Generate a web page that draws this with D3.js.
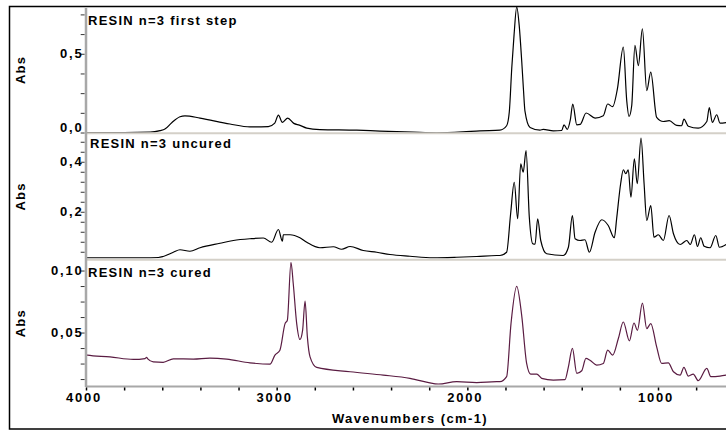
<!DOCTYPE html>
<html>
<head>
<meta charset="utf-8">
<script src="https://cdn.jsdelivr.net/npm/d3@7"></script>
<style>
  html, body { margin: 0; padding: 0; background: #fff; }
  svg { display: block; }
  text { font-family: "Liberation Sans", Arial, sans-serif; font-weight: bold; fill: #000; }
</style>
</head>
<body>
<svg id="chart" width="726" height="431"></svg>
<script>
// Spectra: [wavenumber (cm-1), absorbance]
const firstStep = [
  [4000, 0.000], [3800, 0.000], [3664, 0.002], [3612, 0.012], [3586, 0.022],
  [3549, 0.064], [3507, 0.100], [3481, 0.106], [3402, 0.092], [3245, 0.054],
  [3140, 0.036], [3044, 0.038], [3010, 0.060], [2991, 0.111], [2970, 0.064],
  [2942, 0.092], [2910, 0.058], [2881, 0.047], [2842, 0.028], [2773, 0.019],
  [2580, 0.015], [2458, 0.009], [2285, 0.002], [2161, -0.002], [2023, 0.004],
  [1934, 0.011], [1829, 0.015], [1794, 0.043], [1780, 0.130], [1767, 0.410],
  [1755, 0.620], [1741, 0.797], [1728, 0.680], [1715, 0.457], [1706, 0.280],
  [1698, 0.138], [1671, 0.032], [1619, 0.015], [1602, 0.020], [1549, 0.010],
  [1505, 0.013], [1493, 0.049], [1476, 0.020], [1460, 0.080], [1447, 0.181],
  [1426, 0.049], [1408, 0.052], [1377, 0.124], [1330, 0.092], [1287, 0.107],
  [1264, 0.181], [1238, 0.164], [1213, 0.277], [1182, 0.542], [1164, 0.202],
  [1152, 0.102], [1138, 0.170], [1121, 0.553], [1103, 0.425], [1082, 0.659],
  [1059, 0.266], [1038, 0.383], [1007, 0.096], [972, 0.070], [941, 0.075],
  [902, 0.045], [876, 0.043], [864, 0.085], [841, 0.040], [789, 0.028],
  [744, 0.070], [731, 0.159], [715, 0.064], [692, 0.113], [675, 0.060],
  [640, 0.064]
];

const uncured = [
  [4000, 0.016], [3700, 0.016], [3620, 0.017], [3595, 0.021], [3542, 0.038],
  [3507, 0.048], [3455, 0.042], [3402, 0.056], [3297, 0.074], [3227, 0.085],
  [3140, 0.092], [3070, 0.095], [3026, 0.078], [2991, 0.129], [2970, 0.082],
  [2965, 0.108], [2930, 0.108], [2878, 0.096], [2842, 0.078], [2773, 0.056],
  [2703, 0.060], [2659, 0.050], [2615, 0.061], [2546, 0.045], [2475, 0.038],
  [2406, 0.029], [2301, 0.022], [2179, 0.016], [2056, 0.018], [1951, 0.021],
  [1846, 0.025], [1829, 0.025], [1794, 0.038], [1773, 0.192], [1754, 0.318],
  [1736, 0.172], [1720, 0.392], [1707, 0.358], [1692, 0.445], [1675, 0.178],
  [1657, 0.072], [1645, 0.070], [1631, 0.172], [1615, 0.085], [1584, 0.032],
  [1497, 0.025], [1470, 0.058], [1449, 0.185], [1435, 0.092], [1409, 0.085],
  [1383, 0.088], [1360, 0.038], [1330, 0.118], [1295, 0.168], [1261, 0.145],
  [1229, 0.096], [1217, 0.172], [1196, 0.312], [1182, 0.368], [1169, 0.352],
  [1156, 0.368], [1142, 0.258], [1124, 0.412], [1109, 0.312], [1089, 0.495],
  [1073, 0.312], [1059, 0.165], [1038, 0.225], [1021, 0.098], [998, 0.108],
  [972, 0.085], [942, 0.185], [919, 0.112], [884, 0.069], [849, 0.085],
  [831, 0.069], [809, 0.108], [793, 0.061], [776, 0.096], [758, 0.062],
  [727, 0.056], [697, 0.105], [678, 0.058], [643, 0.069]
];

const cured = [
  [4000, 0.0320], [3993, 0.0318], [3874, 0.0304], [3752, 0.0283], [3690, 0.0290],
  [3682, 0.0300], [3676, 0.0288], [3647, 0.0264], [3595, 0.0260], [3542, 0.0288],
  [3437, 0.0286], [3350, 0.0294], [3262, 0.0286], [3140, 0.0256], [3035, 0.0245],
  [3009, 0.0318], [2983, 0.0358], [2956, 0.0572], [2944, 0.0599], [2925, 0.1067],
  [2913, 0.0893], [2895, 0.0572], [2878, 0.0444], [2864, 0.0518], [2851, 0.0754],
  [2839, 0.0465], [2825, 0.0304], [2790, 0.0219], [2615, 0.0184], [2441, 0.0157],
  [2301, 0.0131], [2152, 0.0085], [2056, 0.0104], [1951, 0.0096], [1846, 0.0104],
  [1829, 0.0104], [1794, 0.0144], [1771, 0.0572], [1741, 0.0872], [1715, 0.0639],
  [1689, 0.0251], [1668, 0.0165], [1636, 0.0165], [1610, 0.0131], [1549, 0.0117],
  [1488, 0.0120], [1470, 0.0224], [1449, 0.0372], [1426, 0.0171], [1400, 0.0192],
  [1378, 0.0291], [1357, 0.0277], [1322, 0.0238], [1287, 0.0251], [1264, 0.0358],
  [1238, 0.0318], [1208, 0.0452], [1182, 0.0585], [1150, 0.0433], [1126, 0.0577],
  [1108, 0.0518], [1082, 0.0738], [1059, 0.0532], [1038, 0.0572], [1007, 0.0384],
  [981, 0.0251], [946, 0.0256], [919, 0.0184], [884, 0.0157], [864, 0.0219],
  [841, 0.0149], [815, 0.0165], [789, 0.0112], [744, 0.0211], [723, 0.0144],
  [675, 0.0149], [643, 0.0157]
];

const panelTitles = ["RESIN n=3 first step", "RESIN n=3 uncured", "RESIN n=3 cured"];
const yDomains = [[-0.003, 0.797], [0.009, 0.513], [0.0069, 0.1081]];
const yLabelTicks = [[0, 0.5], [0.2, 0.4], [0.05, 0.10]];
const yLabelDigits = [1, 1, 2];
const yMinorSteps = [0.125, 0.04, 0.0125];
const xDomain = [4000, 650];
const xLabelTicks = [4000, 3000, 2000, 1000];
const xMinorStep = 200;

const spectra = [firstStep, uncured, cured];
const lineColors = ["#000000", "#000000", "#5a1c42"];

// layout
const svg = d3.select("#chart");
const plotLeft = 86;
const panels = [
  { top: 7,     bottom: 133,   titleX: 88, titleY: 24.5 },
  { top: 133.5, bottom: 259.5, titleX: 90, titleY: 147.5 },
  { top: 260.5, bottom: 386,   titleX: 88, titleY: 276.5 }
];

const x = d3.scaleLinear().domain(xDomain).range([plotLeft, plotLeft + (xDomain[0] - xDomain[1]) * 0.19067]);

// outer frame (runs past the right edge)
svg.append("rect")
  .attr("x", 9.5).attr("y", 6.5).attr("width", 760).attr("height", 422.5)
  .attr("fill", "none").attr("stroke", "#000").attr("stroke-width", 1.5);

const defs = svg.append("defs");

panels.forEach((p, i) => {
  const y = d3.scaleLinear().domain(yDomains[i]).range([p.bottom, p.top]);

  defs.append("clipPath").attr("id", "clip" + i)
    .append("rect")
    .attr("x", plotLeft).attr("y", p.top)
    .attr("width", 726 - plotLeft).attr("height", p.bottom - p.top);

  const line = d3.line()
    .x(d => x(d[0]))
    .y(d => y(d[1]))
    .curve(d3.curveMonotoneX);

  svg.append("path")
    .datum(spectra[i])
    .attr("clip-path", "url(#clip" + i + ")")
    .attr("fill", "none")
    .attr("stroke", lineColors[i])
    .attr("stroke-width", 1.2)
    .attr("stroke-linejoin", "round")
    .attr("d", line);

  // separator below the panel
  if (i < 2) {
    svg.append("line")
      .attr("x1", plotLeft).attr("x2", 726)
      .attr("y1", p.bottom + 0.3).attr("y2", p.bottom + 0.3)
      .attr("stroke", "#d4d0c8").attr("stroke-width", 2);
  }

  // minor ticks on the absorbance axis
  const [lo, hi] = yDomains[i];
  const step = yMinorSteps[i];
  const minor = d3.range(Math.ceil(lo / step - 1e-6) * step, hi + 1e-9, step)
    .filter(v => y(v) >= p.top + 2);
  const axis = d3.axisLeft(y).tickValues(minor).tickSize(4).tickFormat("");
  const gAxis = svg.append("g").attr("transform", `translate(${plotLeft - 1.3},0)`).call(axis);
  gAxis.select(".domain").remove();
  gAxis.selectAll(".tick line").attr("stroke", "#333").attr("stroke-width", 1);

  // labelled ticks
  const fmt = d3.format("." + yLabelDigits[i] + "f");
  svg.append("g").selectAll("text")
    .data(yLabelTicks[i])
    .join("text")
    .attr("x", 83.5)
    .attr("y", v => Math.min(y(v), p.bottom - 6))
    .attr("dy", "0.36em")
    .attr("text-anchor", "end")
    .attr("font-size", 13)
    .attr("letter-spacing", 1.8)
    .text(v => fmt(v).replace(".", ","));

  // axis title
  svg.append("text")
    .attr("transform", `translate(25,${(p.top + p.bottom) / 2}) rotate(-90)`)
    .attr("text-anchor", "middle")
    .attr("font-size", 13)
    .attr("letter-spacing", 1.2)
    .text("Abs");

  // panel title
  svg.append("text")
    .attr("x", p.titleX).attr("y", p.titleY)
    .attr("font-size", 13)
    .attr("letter-spacing", 1.25)
    .text(panelTitles[i]);
});

// left axis line
svg.append("line")
  .attr("x1", plotLeft).attr("x2", plotLeft)
  .attr("y1", 8).attr("y2", 387)
  .attr("stroke", "#a8a8a8").attr("stroke-width", 2.5);

// bottom axis line
const bottomY = panels[2].bottom;
svg.append("line")
  .attr("x1", plotLeft).attr("x2", 726)
  .attr("y1", bottomY + 0.5).attr("y2", bottomY + 0.5)
  .attr("stroke", "#a8a8a8").attr("stroke-width", 2);

// wavenumber ticks
const xMinor = d3.range(xDomain[0], xDomain[1], -xMinorStep);
const xAxis = d3.axisBottom(x).tickValues(xMinor).tickSize(3).tickFormat("");
const gx = svg.append("g").attr("transform", `translate(0,${bottomY + 1.5})`).call(xAxis);
gx.select(".domain").remove();
gx.selectAll(".tick line").attr("stroke", "#000").attr("stroke-width", 1.5);

svg.append("g").selectAll("text")
  .data(xLabelTicks)
  .join("text")
  .attr("x", v => x(v) - 2)
  .attr("y", 402)
  .attr("text-anchor", "middle")
  .attr("font-size", 13)
  .attr("letter-spacing", 1.8)
  .text(v => String(v));

svg.append("text")
  .attr("x", 410).attr("y", 423)
  .attr("text-anchor", "middle")
  .attr("font-size", 13)
  .attr("letter-spacing", 1.4)
  .text("Wavenumbers (cm-1)");
</script>
</body>
</html>
